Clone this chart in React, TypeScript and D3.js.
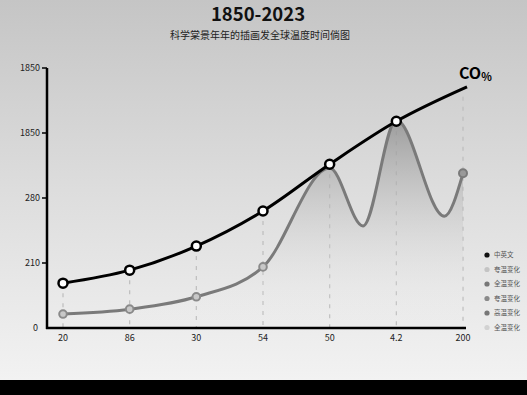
import * as d3 from "d3";

const W = 527;
const H = 395;

// category labels along the bottom
const xLabels = ["20", "86", "30", "54", "50", "4.2", "200"];
// y tick labels, bottom to top
const yLabels = ["0", "210", "280", "1850", "1850"];

// main series (black), index positions and values in tick units
const mainX = [0, 1, 2, 3, 4, 5, 6.06];
const mainY = [0.69, 0.89, 1.26, 1.8, 2.52, 3.18, 3.71];

// secondary series (gray)
const subX = [0, 1, 2, 3, 4, 4.5, 5, 5.72, 6];
const subY = [0.215, 0.29, 0.48, 0.94, 2.46, 1.57, 3.2, 1.72, 2.38];
const subMarkers = [0, 1, 2, 3];

const legendLabels = ["中英文", "夸温变化", "全温变化", "夸温变化", "高温变化", "全温变化"];
const legendColors = ["#111111", "#c4c4c4", "#777777", "#8a8a8a", "#777777", "#d2d2d2"];

export default function App() {
  const x = d3.scaleLinear().domain([0, 6]).range([63, 463]);
  const y = d3.scaleLinear().domain([0, 4]).range([328, 68]);

  const mainPts = mainX.map((v, i) => [x(v), y(mainY[i])] as [number, number]);
  const subPts = subX.map((v, i) => [x(v), y(subY[i])] as [number, number]);

  const line = d3.line().curve(d3.curveMonotoneX);
  const area = d3
    .area<[number, number]>()
    .x(d => d[0])
    .y0(y(0))
    .y1(d => d[1])
    .curve(d3.curveMonotoneX);

  const font = "'Noto Sans CJK SC', 'Noto Sans', sans-serif";
  const last = mainPts.length - 1;

  return (
    <svg
      width={W}
      height={H}
      style={{ position: "fixed", left: 0, top: 0 }}
      fontFamily={font}
    >
      <defs>
        <linearGradient id="bg" x1="0" y1="0" x2="0" y2="1">
          <stop offset="0" stopColor="#c5c5c5" />
          <stop offset="0.5" stopColor="#dddddd" />
          <stop offset="1" stopColor="#f2f2f2" />
        </linearGradient>
        <linearGradient id="fill" gradientUnits="userSpaceOnUse" x1="0" y1={y(3.2)} x2="0" y2={y(0)}>
          <stop offset="0" stopColor="#8a8a8a" stopOpacity="0.75" />
          <stop offset="1" stopColor="#ffffff" stopOpacity="0" />
        </linearGradient>
      </defs>
      <rect x={0} y={0} width={W} height={380} fill="url(#bg)" />
      <rect x={0} y={380} width={W} height={H - 380} fill="#000" />

      <text x={258} y={21} textAnchor="middle" fontSize={18.5} fontWeight="bold" fill="#111">
        1850-2023
      </text>
      <text x={260} y={39} textAnchor="middle" fontSize={10} fill="#222">
        科学棠景年年的插画发全球温度时间倘图
      </text>

      {/* dashed guides */}
      {mainPts.map((p, i) => (
        <line
          key={`g-${i}`}
          x1={i === last ? x(6) : p[0]}
          x2={i === last ? x(6) : p[0]}
          y1={i === last ? p[1] + 10 : p[1]}
          y2={y(0)}
          stroke="#bdbdbd"
          strokeWidth={1.2}
          strokeDasharray="4 6"
        />
      ))}

      {/* gray area + line */}
      <path d={area(subPts) || ""} fill="url(#fill)" />
      <path d={line(subPts) || ""} fill="none" stroke="#7a7a7a" strokeWidth={3} />
      {subMarkers.map(i => (
        <circle key={`s-${i}`} cx={subPts[i][0]} cy={subPts[i][1]} r={3.8} fill="#c8c8c8" stroke="#8a8a8a" strokeWidth={2} />
      ))}
      <circle cx={subPts[subPts.length - 1][0]} cy={subPts[subPts.length - 1][1]} r={4} fill="#999" stroke="#7a7a7a" strokeWidth={2} />

      {/* black line */}
      <path d={line(mainPts) || ""} fill="none" stroke="#000" strokeWidth={3} />
      {mainPts.slice(0, 6).map((p, i) => (
        <circle key={`m-${i}`} cx={p[0]} cy={p[1]} r={4.5} fill="#fff" stroke="#000" strokeWidth={2.5} />
      ))}

      <text x={459} y={79} fontSize={16} fontWeight="bold" fill="#000">
        CO<tspan fontSize={11} dy={2}>%</tspan>
      </text>

      {/* axes */}
      <line x1={47} x2={47} y1={y(4)} y2={y(0) + 1} stroke="#000" strokeWidth={2.5} />
      <line x1={46} x2={466} y1={y(0)} y2={y(0)} stroke="#000" strokeWidth={2.5} />
      {yLabels.map((l, i) => (
        <g key={`y-${i}`}>
          {i > 0 && <line x1={42} x2={47} y1={y(i)} y2={y(i)} stroke="#000" strokeWidth={1.5} />}
          <text x={i === 0 ? 38 : 40} y={y(i)} dy="0.35em" textAnchor="end" fontSize={9} fill="#222">
            {l}
          </text>
        </g>
      ))}
      {xLabels.map((l, i) => (
        <text key={`x-${i}`} x={x(i)} y={341} textAnchor="middle" fontSize={9} fill="#222">
          {l}
        </text>
      ))}

      {/* legend */}
      {legendLabels.map((l, i) => (
        <g key={`l-${i}`} transform={`translate(487, ${255 + i * 14.5})`}>
          <circle r={2.6} fill={legendColors[i]} />
          <text x={7} dy="0.35em" fontSize={6.5} fill="#555">
            {l}
          </text>
        </g>
      ))}
    </svg>
  );
}
